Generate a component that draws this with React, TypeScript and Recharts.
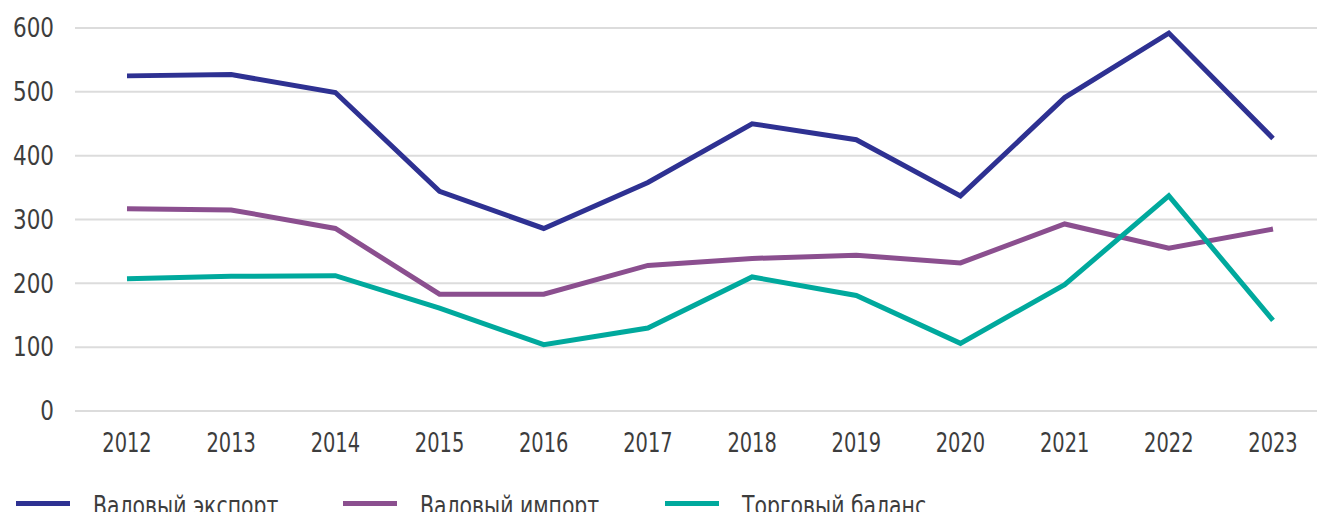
import React from 'react';
import { LineChart, Line, XAxis, YAxis, CartesianGrid, Legend } from 'recharts';

const years = ['2012', '2013', '2014', '2015', '2016', '2017', '2018', '2019', '2020', '2021', '2022', '2023'];
const grossExport = [525, 527, 499, 344, 286, 358, 450, 425, 337, 491, 592, 427];
const grossImport = [317, 315, 286, 183, 183, 228, 239, 244, 232, 293, 255, 285];
const tradeBalance = [207, 211, 212, 161, 104, 130, 210, 181, 106, 198, 337, 142];
const yTicks = [0, 100, 200, 300, 400, 500, 600];

const seriesNames = ['Валовый экспорт', 'Валовый импорт', 'Торговый баланс'];
const seriesColors = ['#2e3192', '#8b4f8f', '#00a99d'];

const data = years.map((year, i) => ({
  year,
  exp: grossExport[i],
  imp: grossImport[i],
  bal: tradeBalance[i],
}));

const FONT = '"Liberation Sans Narrow", "DejaVu Sans Condensed", "Roboto", sans-serif';
const TEXT = '#3d3d3d';

const XTick = (props: any) => {
  const { x, y, payload } = props;
  return (
    <g transform={`translate(${x},${y})`}>
      <text
        transform="scale(0.8,1)"
        textAnchor="middle"
        dy="0.71em"
        fontFamily={FONT}
        fontSize={27}
        fill={TEXT}
      >
        {payload.value}
      </text>
    </g>
  );
};

const YTick = (props: any) => {
  const { x, y, payload } = props;
  return (
    <g transform={`translate(${x},${y})`}>
      <text
        transform="scale(0.92,1)"
        textAnchor="end"
        dy="0.355em"
        fontFamily={FONT}
        fontSize={26}
        fill={TEXT}
      >
        {payload.value}
      </text>
    </g>
  );
};

const renderLegend = (props: any) => {
  const payload = [...(props.payload || [])].sort(
    (a: any, b: any) => seriesNames.indexOf(a.value) - seriesNames.indexOf(b.value)
  );
  const lefts = [16, 343, 665];
  return (
    <div style={{ position: 'relative', height: 40, width: 1000 }}>
      {payload.map((entry: any, i: number) => (
        <div
          key={entry.value}
          style={{
            position: 'absolute',
            left: lefts[i],
            top: 0,
            height: 40,
            display: 'flex',
            alignItems: 'center',
          }}
        >
          <div style={{ width: 54, height: 5, background: entry.color, marginRight: 23, marginTop: 2 }} />
          <span
            style={{
              fontFamily: FONT,
              fontSize: 27,
              color: TEXT,
              lineHeight: '40px',
              whiteSpace: 'nowrap',
              display: 'inline-block',
              transform: 'translateY(4px) scaleX(0.84)',
              transformOrigin: 'left center',
            }}
          >
            {entry.value}
          </span>
        </div>
      ))}
    </div>
  );
};

export default function App() {
  return (
    <div style={{ position: 'absolute', left: 0, top: 0, width: 1317, height: 512, overflow: 'hidden', background: '#fff' }}>
      <LineChart width={1340} height={522} data={data} margin={{ top: 28, right: 15, bottom: 0, left: 0 }}>
        <CartesianGrid vertical={false} stroke="#dcdcdc" strokeWidth={2} />
        <XAxis
          dataKey="year"
          axisLine={false}
          tickLine={false}
          tickSize={0}
          tickMargin={22}
          height={71}
          padding={{ left: 52, right: 52 }}
          tick={<XTick />}
          interval={0}
        />
        <YAxis
          domain={[0, 600]}
          ticks={yTicks}
          axisLine={false}
          tickLine={false}
          tickSize={0}
          tickMargin={21}
          width={75}
          tick={<YTick />}
        />
        <Legend verticalAlign="bottom" align="left" height={40} content={renderLegend} />
        <Line dataKey="exp" name={seriesNames[0]} stroke={seriesColors[0]} strokeWidth={5} dot={false} isAnimationActive={false} strokeLinejoin="miter" />
        <Line dataKey="imp" name={seriesNames[1]} stroke={seriesColors[1]} strokeWidth={5} dot={false} isAnimationActive={false} strokeLinejoin="miter" />
        <Line dataKey="bal" name={seriesNames[2]} stroke={seriesColors[2]} strokeWidth={5} dot={false} isAnimationActive={false} strokeLinejoin="miter" />
      </LineChart>
    </div>
  );
}
